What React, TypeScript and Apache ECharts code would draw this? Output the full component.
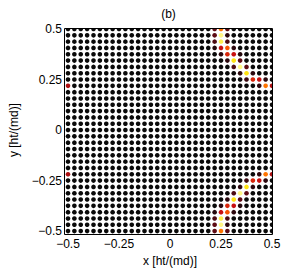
import React, { useEffect, useRef } from "react";
import * as echarts from "echarts";

// Lattice coordinates (33 x 33 sites, x and y share the same positions)
const LATTICE = [
  -0.5, -0.46875, -0.4375, -0.40625, -0.375, -0.34375, -0.3125, -0.28125,
  -0.25, -0.21875, -0.1875, -0.15625, -0.125, -0.09375, -0.0625, -0.03125,
  0, 0.03125, 0.0625, 0.09375, 0.125, 0.15625, 0.1875, 0.21875, 0.25,
  0.28125, 0.3125, 0.34375, 0.375, 0.40625, 0.4375, 0.46875, 0.5,
];

// Sites with non-zero intensity, upper band: [x, y, value]
const HOT_UPPER: [number, number, number][] = [
  [0.21875, 0.5, 0.3], [0.25, 0.5, 0.7], [0.28125, 0.5, 0.3],
  [0.21875, 0.46875, 0.3], [0.25, 0.46875, 0.95], [0.28125, 0.46875, 0.15],
  [0.21875, 0.4375, 0.25], [0.25, 0.4375, 0.9], [0.28125, 0.4375, 0.25],
  [0.21875, 0.40625, 0.12], [0.25, 0.40625, 0.5], [0.28125, 0.40625, 0.65], [0.3125, 0.40625, 0.15],
  [0.25, 0.375, 0.15], [0.28125, 0.375, 0.55], [0.3125, 0.375, 0.5], [0.34375, 0.375, 0.12],
  [0.28125, 0.34375, 0.15], [0.3125, 0.34375, 0.85], [0.34375, 0.34375, 0.3],
  [0.3125, 0.3125, 0.25], [0.34375, 0.3125, 0.95], [0.375, 0.3125, 0.3],
  [0.34375, 0.28125, 0.15], [0.375, 0.28125, 0.85], [0.40625, 0.28125, 0.15],
  [0.375, 0.25, 0.2], [0.40625, 0.25, 0.55], [0.4375, 0.25, 0.5], [0.46875, 0.25, 0.15],
  [0.4375, 0.21875, 0.15], [0.46875, 0.21875, 0.7], [0.5, 0.21875, 0.45],
  [-0.5, 0.21875, 0.45],
];

// Sites with non-zero intensity, lower band: [x, y, value]
const HOT_LOWER: [number, number, number][] = [
  [0.21875, -0.5, 0.3], [0.25, -0.5, 0.7], [0.28125, -0.5, 0.3],
  [0.21875, -0.46875, 0.3], [0.25, -0.46875, 0.95], [0.28125, -0.46875, 0.15],
  [0.21875, -0.4375, 0.25], [0.25, -0.4375, 0.9], [0.28125, -0.4375, 0.25],
  [0.21875, -0.40625, 0.12], [0.25, -0.40625, 0.5], [0.28125, -0.40625, 0.65], [0.3125, -0.40625, 0.15],
  [0.25, -0.375, 0.15], [0.28125, -0.375, 0.55], [0.3125, -0.375, 0.5], [0.34375, -0.375, 0.12],
  [0.28125, -0.34375, 0.15], [0.3125, -0.34375, 0.85], [0.34375, -0.34375, 0.3],
  [0.3125, -0.3125, 0.25], [0.34375, -0.3125, 0.95], [0.375, -0.3125, 0.3],
  [0.34375, -0.28125, 0.15], [0.375, -0.28125, 0.85], [0.40625, -0.28125, 0.15],
  [0.375, -0.25, 0.2], [0.40625, -0.25, 0.55], [0.4375, -0.25, 0.5], [0.46875, -0.25, 0.15],
  [0.4375, -0.21875, 0.15], [0.46875, -0.21875, 0.7], [0.5, -0.21875, 0.45],
  [-0.5, -0.21875, 0.45],
];

const TITLE = "(b)";
const X_NAME = "x [ht/(md)]";
const Y_NAME = "y [ht/(md)]";
const AXIS_MIN = -0.5;
const AXIS_MAX = 0.5;
const TICK_STEP = 0.25;

const FONT = "'Liberation Sans', Arial, Helvetica, sans-serif";
const G = { left: 65, top: 29, width: 207, height: 205 };
const BAND = 3;

const fmt = (v: number) => (v < 0 ? "\u2212" + String(-v) : String(v));

export default function App() {
  const ref = useRef<HTMLDivElement>(null);
  useEffect(() => {
    document.body.style.margin = "0";
    if (!ref.current) return;
    const chart = echarts.init(ref.current, undefined, { renderer: "svg" });

    const hot = new Map<string, number>();
    [...HOT_UPPER, ...HOT_LOWER].forEach(([x, y, v]) => hot.set(x + "," + y, v));
    const data: number[][] = [];
    LATTICE.forEach((x) =>
      LATTICE.forEach((y) => {
        data.push([x, y, hot.get(x + "," + y) ?? 0]);
      })
    );

    const bandStyle = { fill: "#ffffff" };
    chart.setOption({
      animation: false,
      grid: { ...G, show: false },
      xAxis: {
        type: "value",
        min: AXIS_MIN,
        max: AXIS_MAX,
        interval: TICK_STEP,
        name: X_NAME,
        nameLocation: "middle",
        nameGap: 18,
        nameTextStyle: { fontFamily: FONT, fontSize: 12, color: "#000" },
        axisLine: { show: false },
        axisTick: { show: false },
        splitLine: { show: false },
        axisLabel: { formatter: fmt, fontFamily: FONT, fontSize: 12, color: "#000", margin: 7 },
      },
      yAxis: {
        type: "value",
        min: AXIS_MIN,
        max: AXIS_MAX,
        interval: TICK_STEP,
        name: Y_NAME,
        nameLocation: "middle",
        nameGap: 48,
        nameTextStyle: { fontFamily: FONT, fontSize: 12, color: "#000" },
        axisLine: { show: false },
        axisTick: { show: false },
        splitLine: { show: false },
        axisLabel: { formatter: fmt, fontFamily: FONT, fontSize: 12, color: "#000", margin: 6 },
      },
      visualMap: {
        show: false,
        type: "continuous",
        dimension: 2,
        min: 0,
        max: 1,
        inRange: {
          color: ["#0a0a0a", "#30080e", "#6a0c16", "#c81010", "#ff5a00", "#ffe000", "#ffffc0"],
        },
      },
      series: [
        {
          type: "scatter",
          data,
          symbol: "circle",
          symbolSize: 4.6,
          itemStyle: { opacity: 1 },
          silent: true,
        },
      ],
      graphic: [
        { type: "rect", z: 100, shape: { x: G.left - BAND, y: G.top - BAND, width: G.width + 2 * BAND, height: BAND }, style: bandStyle },
        { type: "rect", z: 100, shape: { x: G.left - BAND, y: G.top + G.height, width: G.width + 2 * BAND, height: BAND }, style: bandStyle },
        { type: "rect", z: 100, shape: { x: G.left - BAND, y: G.top - BAND, width: BAND, height: G.height + 2 * BAND }, style: bandStyle },
        { type: "rect", z: 100, shape: { x: G.left + G.width, y: G.top - BAND, width: BAND, height: G.height + 2 * BAND }, style: bandStyle },
        {
          type: "rect",
          z: 101,
          shape: { x: G.left - 0.5, y: G.top - 0.5, width: G.width + 1, height: G.height + 1 },
          style: { fill: "none", stroke: "#000", lineWidth: 1 },
        },
        {
          type: "text",
          z: 101,
          x: G.left + G.width / 2,
          y: 14,
          style: { text: TITLE, fontFamily: FONT, fontSize: 12, fill: "#000", align: "center", verticalAlign: "middle" },
        },
      ],
    });
    return () => chart.dispose();
  }, []);
  return <div ref={ref} style={{ width: 285, height: 272 }} />;
}
